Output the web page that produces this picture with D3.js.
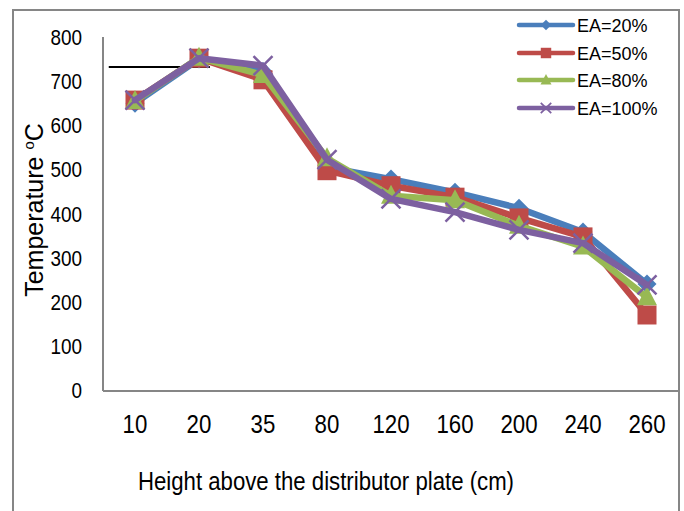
<!DOCTYPE html>
<html>
<head>
<meta charset="utf-8">
<script src="https://cdn.jsdelivr.net/npm/d3@7"></script>
<style>
  body { margin: 0; background: #fff; }
  svg { display: block; }
</style>
</head>
<body>
<script>
// Heights above the distributor plate (cm)
var categories = ["10", "20", "35", "80", "120", "160", "200", "240", "260"];

// Temperature (oC) for each excess air level
var ea20  = [650, 750, 722, 505, 478, 448, 412, 358, 240];
var ea50  = [657, 752, 703, 497, 463, 437, 390, 347, 170];
var ea80  = [655, 753, 714, 525, 440, 430, 372, 325, 210];
var ea100 = [657, 752, 735, 522, 433, 403, 363, 333, 238];

var seriesNames = ["EA=20%", "EA=50%", "EA=80%", "EA=100%"];
var yTicks = [0, 100, 200, 300, 400, 500, 600, 700, 800];

// stray black line sitting on the chart (value, from / to category index)
var refLine = {value: 732, from: -0.41, to: 1.17};

var chart = {
    width: 684,
    height: 511,
    plot: {left: 103, right: 679, top: 37, bottom: 390},

    draw: function(){
        var svg = d3.select("body").append("svg")
            .attr("width", this.width)
            .attr("height", this.height);

        var p = this.plot;
        var x = d3.scalePoint()
            .domain(categories)
            .range([p.left, p.right])
            .padding(0.5);
        var y = d3.scaleLinear()
            .domain([0, 800])
            .range([p.bottom, p.top]);
        // index based x for the loose line
        var xi = d3.scaleLinear()
            .domain([0, categories.length - 1])
            .range([x(categories[0]), x(categories[categories.length - 1])]);

        // outer chart border
        svg.append("rect")
           .attr("x", 13)
           .attr("y", 10)
           .attr("width", p.right - 13)
           .attr("height", 520)
           .attr("fill", "none")
           .attr("stroke", "#868686")
           .attr("stroke-width", 2);

        // axes lines
        svg.append("line")
           .attr("x1", p.left).attr("x2", p.left)
           .attr("y1", y(800)).attr("y2", y(0) + 1)
           .attr("stroke", "#868686").attr("stroke-width", 2);
        svg.append("line")
           .attr("x1", p.left).attr("x2", p.right)
           .attr("y1", y(0) + 1).attr("y2", y(0) + 1)
           .attr("stroke", "#868686").attr("stroke-width", 2);

        var font = "'Liberation Sans', Arial, sans-serif";

        // y tick labels (the original text is squeezed sideways)
        svg.selectAll(".ylab")
           .data(yTicks)
           .enter()
           .append("text")
           .attr("transform", function(d){ return "translate(82," + (y(d) + 8) + ") scale(0.86,1)"; })
           .attr("text-anchor", "end")
           .attr("font-family", font)
           .attr("font-size", 22)
           .attr("fill", "#000")
           .text(function(d){ return d; });

        // x tick labels
        svg.selectAll(".xlab")
           .data(categories)
           .enter()
           .append("text")
           .attr("transform", function(d){ return "translate(" + x(d) + ",433) scale(0.84,1)"; })
           .attr("text-anchor", "middle")
           .attr("font-family", font)
           .attr("font-size", 26.5)
           .attr("fill", "#000")
           .text(function(d){ return d; });

        // axis titles
        svg.append("text")
           .attr("x", 138)
           .attr("y", 490)
           .attr("textLength", 376)
           .attr("lengthAdjust", "spacingAndGlyphs")
           .attr("font-family", font)
           .attr("font-size", 26)
           .text("Height above the distributor plate (cm)");

        var yt = svg.append("text")
           .attr("transform", "translate(43,210) rotate(-90)")
           .attr("text-anchor", "middle")
           .attr("font-family", font)
           .attr("font-size", 25);
        yt.append("tspan").text("Temperature ");
        yt.append("tspan").attr("font-size", 15).attr("dy", -9).text("o");
        yt.append("tspan").attr("dy", 9).text("C");

        // loose black line
        svg.append("line")
           .attr("x1", xi(refLine.from)).attr("x2", xi(refLine.to))
           .attr("y1", y(refLine.value)).attr("y2", y(refLine.value))
           .attr("stroke", "#000").attr("stroke-width", 2);

        var all = [ea20, ea50, ea80, ea100];
        var colors = ["#4A7EBB", "#BE4B48", "#98B954", "#7D60A0"];
        var shapes = ["diamond", "square", "triangle", "cross"];

        var line = d3.line()
            .x(function(d, i){ return x(categories[i]); })
            .y(function(d){ return y(d); });

        // each series: line then markers, in order
        for(var s = 0; s < all.length; s++){
            svg.append("path")
               .datum(all[s])
               .attr("d", line)
               .attr("fill", "none")
               .attr("stroke", colors[s])
               .attr("stroke-width", 6.5)
               .attr("stroke-linejoin", "round")
               .attr("stroke-linecap", "round");

            for(var i = 0; i < all[s].length; i++){
                this.marker(svg, shapes[s], x(categories[i]), y(all[s][i]), 1, colors[s]);
            }
        }

        // legend
        var rows = [25, 53, 80, 108];
        for(var k = 0; k < seriesNames.length; k++){
            svg.append("line")
               .attr("x1", 519).attr("x2", 573)
               .attr("y1", rows[k]).attr("y2", rows[k])
               .attr("stroke", colors[k])
               .attr("stroke-width", 4.5)
               .attr("stroke-linecap", "round");
            this.marker(svg, shapes[k], 546, rows[k], 0.55, colors[k]);
            svg.append("text")
               .attr("x", 577)
               .attr("y", rows[k] + 6.5)
               .attr("font-family", font)
               .attr("font-size", 18)
               .attr("fill", "#000")
               .text(seriesNames[k]);
        }
    },

    marker: function(svg, shape, cx, cy, k, color){
        var g = svg.append("g").attr("transform", "translate(" + cx + "," + cy + ")");
        if(shape == "diamond"){
            var r = 9.5 * k;
            g.append("path")
             .attr("d", "M0," + (-r) + "L" + r + ",0L0," + r + "L" + (-r) + ",0Z")
             .attr("fill", color);
        }
        else if(shape == "square"){
            var h = 9.5 * k;
            g.append("rect")
             .attr("x", -h).attr("y", -h)
             .attr("width", 2 * h).attr("height", 2 * h)
             .attr("fill", color);
        }
        else if(shape == "triangle"){
            var w = 10 * k, t = 11 * k, b = 8 * k;
            g.append("path")
             .attr("d", "M0," + (-t) + "L" + w + "," + b + "L" + (-w) + "," + b + "Z")
             .attr("fill", color);
        }
        else{
            var c = 9.5 * k;
            g.append("path")
             .attr("d", "M" + (-c) + "," + (-c) + "L" + c + "," + c + "M" + c + "," + (-c) + "L" + (-c) + "," + c)
             .attr("stroke", color)
             .attr("stroke-width", 2.5 * Math.max(k, 0.7));
        }
    }
};

chart.draw();
</script>
</body>
</html>
